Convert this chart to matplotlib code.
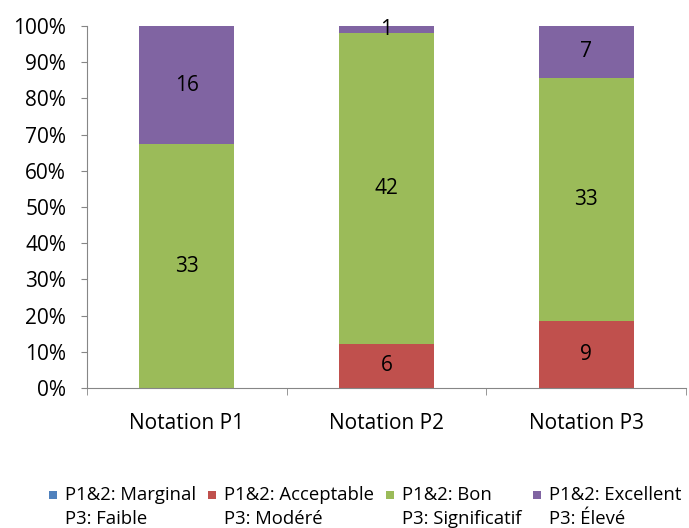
import numpy as np
import matplotlib.pyplot as plt
from matplotlib.patches import Patch, Rectangle
from matplotlib.ticker import PercentFormatter

plt.rcParams['font.family'] = ['Open Sans', 'DejaVu Sans']

categories = ['Notation P1', 'Notation P2', 'Notation P3']
series_labels = ['P1&2: Marginal\nP3: Faible',
                 'P1&2: Acceptable\nP3: Modéré',
                 'P1&2: Bon\nP3: Significatif',
                 'P1&2: Excellent\nP3: Élevé']
counts_marginal = [0, 0, 0]
counts_acceptable = [0, 6, 9]
counts_bon = [33, 42, 33]
counts_excellent = [16, 1, 7]
colors = ['#4F81BD', '#C0504D', '#9BBB59', '#8064A2']

FS = 15       # axis and data labels
FS_LEG = 13.3


class TopSquare:
    # legend key drawn level with the first line of a two-line label
    def legend_artist(self, legend, orig_handle, fontsize, handlebox):
        size = 0.43 * fontsize
        y0 = 0.83 * fontsize
        r = Rectangle((-handlebox.xdescent, y0), size, size,
                      facecolor=orig_handle.get_facecolor(), edgecolor='none',
                      transform=handlebox.get_transform())
        handlebox.add_artist(r)
        return r


series = np.array([counts_marginal, counts_acceptable, counts_bon, counts_excellent], dtype=float)
totals = series.sum(axis=0)
shares = series / totals * 100

fig = plt.figure(figsize=(6.89, 5.28), dpi=100)
ax = fig.add_axes([0.1263, 0.2652, 0.8693, 0.6856])

x = np.arange(len(categories))
bottom = np.zeros(len(categories))
for s, (vals, cnt) in enumerate(zip(shares, series)):
    ax.bar(x, vals, 0.475, bottom=bottom, color=colors[s], edgecolor='none')
    for i in range(len(categories)):
        if cnt[i] > 0:
            ax.text(x[i], bottom[i] + vals[i] / 2, f'{int(cnt[i])}',
                    ha='center', va='center', fontsize=FS, color='black')
    bottom += vals

ax.set_xlim(-0.5, 2.5)
ax.set_ylim(0, 100)
ax.set_yticks(np.arange(0, 101, 10))
ax.yaxis.set_major_formatter(PercentFormatter(decimals=0))
ax.set_xticks(x)
ax.set_xticklabels(categories)
ax.set_xticks([-0.5, 0.5, 1.5, 2.5], minor=True)
ax.tick_params(axis='x', which='major', length=0, pad=18, labelsize=FS)
ax.tick_params(axis='x', which='minor', length=5, color='#868686', direction='out')
ax.tick_params(axis='y', length=4.5, color='#868686', labelsize=FS, pad=10.5)
for side in ['top', 'right']:
    ax.spines[side].set_visible(False)
for side in ['left', 'bottom']:
    ax.spines[side].set_color('#868686')

handles = [Patch(facecolor=c, edgecolor='none') for c in colors]
leg = fig.legend(handles, series_labels, loc='lower left', bbox_to_anchor=(0.0604, -0.014),
                 ncol=4, frameon=False, fontsize=FS_LEG, handlelength=0.43, handleheight=0.43,
                 handletextpad=0.43, columnspacing=0.65, borderaxespad=0,
                 handler_map={Patch: TopSquare()})
for t in leg.get_texts():
    t.set_linespacing(1.45)

fig.savefig('out.png', dpi=100)
